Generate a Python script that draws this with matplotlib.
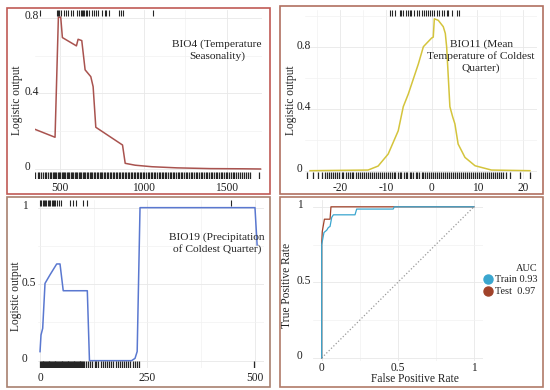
import matplotlib
matplotlib.use("Agg")
import matplotlib.pyplot as plt
from matplotlib.lines import Line2D
from matplotlib.patches import Rectangle
import matplotlib.transforms as mtransforms

plt.rcParams['font.family'] = ['Liberation Serif', 'DejaVu Serif']

# ---------------- data ----------------
bio4_x = [350, 470, 490, 504, 514, 598, 608, 630, 650, 684, 698, 714, 874, 890, 950, 1050, 1200, 1400, 1600, 1700]
bio4_y = [0.210, 0.168, 0.804, 0.804, 0.696, 0.652, 0.687, 0.680, 0.525, 0.489, 0.436, 0.221, 0.127, 0.030, 0.020, 0.012, 0.006, 0.002, 0.001, 0.0]
bio4_pres = [380, 484, 490, 496, 504, 524, 534, 550, 564, 578, 604, 614, 624, 634, 640, 646, 654, 664, 674, 690,
             704, 718, 726, 754, 770, 778, 794, 854, 864, 874, 1058]
bio4_bg = [352, 365, 374, 388, 396, 410, 418, 425, 437, 446, 455, 462, 470, 478, 486, 493, 501, 509, 516, 524,
           531, 540, 548, 556, 563, 571, 580, 588, 596, 604, 612, 619, 627, 636, 645, 652, 660, 668, 677, 685,
           694, 702, 711, 720, 728, 737, 745, 754, 763, 771, 780, 790, 798, 807, 816, 825, 834, 842, 851, 860,
           869, 878, 887, 896, 905, 914, 923, 932, 941, 950, 960, 969, 978, 987, 996, 1005, 1015, 1024, 1033,
           1043, 1052, 1061, 1071, 1080, 1090, 1099, 1108, 1118, 1128, 1137, 1147, 1156, 1166, 1175, 1185,
           1195, 1204, 1214, 1224, 1233, 1243, 1253, 1262, 1272, 1282, 1292, 1302, 1311, 1321, 1331, 1341,
           1351, 1361, 1371, 1381, 1391, 1401, 1411, 1421, 1431, 1441, 1451, 1461, 1472, 1482, 1492, 1502,
           1513, 1523, 1534, 1544, 1555, 1566, 1577, 1589, 1601, 1614, 1628, 1640, 1690]

bio11_x = [-26.6, -13.9, -11.7, -9.5, -7.3, -6.2, -5.1, -2.9, -1.8, -1.1, 0.0, 0.36, 0.6, 1.46, 2.55, 3.0, 3.3,
           4.0, 4.6, 5.1, 5.8, 7.3, 9.5, 13.1, 21.5]
bio11_y = [0.0, 0.004, 0.030, 0.108, 0.259, 0.415, 0.497, 0.692, 0.804, 0.826, 0.860, 0.866, 0.985, 0.975, 0.934,
           0.890, 0.800, 0.415, 0.350, 0.303, 0.173, 0.086, 0.032, 0.004, 0.0]
bio11_pres = [-9.1, -8.6, -7.9, -6.9, -6.6, -6.2, -5.7, -5.1, -4.7, -4.4, -3.8, -3.3, -2.8, -2.2, -1.7, -1.3,
              -0.7, -0.4, 0.0, 0.6, 1.1, 1.6, 2.2, 2.8, 3.3, 3.6, 4.4, 5.5, 6.1]
bio11_bg = [-27.3, -26.0, -24.9, -24.0, -23.3, -22.9, -22.4, -22.0, -21.5, -21.1, -20.6, -20.2, -19.7, -19.3,
            -18.8, -18.4, -17.9, -17.5, -17.1, -16.6, -16.2, -15.7, -15.3, -14.8, -14.4, -14.0, -13.5, -13.1,
            -12.6, -12.2, -11.8, -11.3, -10.9, -10.5, -10.0, -9.6, -9.2, -8.7, -8.3, -7.9, -7.4, -7.0, -6.6,
            -6.1, -5.7, -5.3, -4.8, -4.4, -4.0, -3.5, -3.1, -2.7, -2.2, -1.8, -1.4, -0.9, -0.5, -0.1, 0.4, 0.8,
            1.2, 1.7, 2.1, 2.5, 3.0, 3.4, 3.8, 4.3, 4.7, 5.1, 5.6, 6.0, 6.4, 6.9, 7.3, 7.7, 8.2, 8.6, 9.0, 9.5,
            9.9, 10.3, 10.8, 11.2, 11.6, 12.1, 12.5, 12.9, 13.4, 13.8, 14.2, 14.7, 15.1, 15.6, 16.3, 17.2,
            19.4, 21.5]

bio19_x = [0, 2.3, 6.2, 11.6, 23, 38.8, 46.5, 54, 110, 115, 213, 221, 226, 232.6, 500, 505]
bio19_y = [0.059, 0.168, 0.211, 0.505, 0.560, 0.632, 0.632, 0.457, 0.457, 0.0, 0.0, 0.015, 0.060, 1.0, 1.0, 0.756]
bio19_pres = [0, 3, 6, 9, 12, 15, 18, 21, 24, 27, 30, 33, 36, 40, 44, 48, 70, 76, 84, 101, 110, 444]
bio19_bg = [0, 2, 4, 6, 8, 10, 12, 14, 16, 18, 20, 22, 24, 26, 28, 30, 32, 34, 36, 38, 40, 42, 44, 46, 48, 50,
            52, 54, 56, 58, 60, 62, 64, 66, 68, 70, 72, 74, 76, 78, 80, 82, 84, 86, 88, 90, 92, 94, 96, 98, 100,
            103, 108, 112, 117, 121, 127, 131, 136, 141, 147, 151, 156, 160, 165, 170, 176, 181, 186, 190, 195,
            200, 205, 210, 216, 221, 226, 230, 498]

fpr_train = [0, 0, 0.015, 0.033, 0.044, 0.055, 0.066, 0.077, 0.219, 0.23, 0.47, 0.477, 1.0]
tpr_train = [0, 0.75, 0.83, 0.845, 0.863, 0.87, 0.93, 0.947, 0.947, 0.985, 0.985, 1.0, 1.0]
fpr_test = [0, 0, 0.004, 0.018, 0.055, 0.061, 1.0]
tpr_test = [0, 0.76, 0.837, 0.918, 0.918, 1.0, 1.0]
diag = [0, 1]
auc_labels = ['Train 0.93', 'Test  0.97']

# ---------------- styling ----------------
W, H = 550, 390
fig = plt.figure(figsize=(5.5, 3.9), dpi=100)
FS = 8.3
TXT = '#222222'
GRID_MAJ = '#e8e8e8'
GRID_MIN = '#f2f2f2'
RUG = '#262626'


def box(l, t, r, b):
    return [l / W, 1 - b / H, (r - l) / W, (b - t) / H]


def fxy(x, y):
    return x / W, 1 - y / H


def style(ax, xt, xtl, xminor, yt, ytl, yminor, ypad_px, xpad):
    for s in ax.spines.values():
        s.set_visible(False)
    ax.set_xticks(xt)
    ax.set_xticklabels(xtl)
    ax.set_xticks(xminor, minor=True)
    ax.set_yticks(yt)
    ax.set_yticklabels(ytl)
    ax.set_yticks(yminor, minor=True)
    ax.tick_params(which='both', length=0, labelsize=FS, labelcolor=TXT)
    ax.tick_params(axis='y', pad=ypad_px * 0.72)
    ax.tick_params(axis='x', pad=xpad)
    ax.grid(which='major', color=GRID_MAJ, lw=0.6)
    ax.grid(which='minor', color=GRID_MIN, lw=0.5)
    ax.set_axisbelow(True)
    off = mtransforms.ScaledTranslation(0, 3 / 100, fig.dpi_scale_trans)
    for lab in ax.get_yticklabels():
        lab.set_horizontalalignment('left')
        lab.set_transform(lab.get_transform() + off)


def rugs(ax, pres, bg):
    tr = ax.get_xaxis_transform()
    ax.vlines(bg, 0, 0.042, transform=tr, color=RUG, lw=0.9)
    ax.vlines(pres, 0.965, 1.0, transform=tr, color=RUG, lw=0.8)


def ylab(ax, text, xr, yc):
    ax.set_ylabel(text, fontsize=FS, color=TXT)
    ax.yaxis.set_label_coords(xr / W, 1 - yc / H, transform=fig.transFigure)


# ---- panel borders ----
borders = [((7, 8, 270, 194), '#c05a55'), ((280, 6, 543, 194), '#b07060'),
           ((7, 197, 270, 387), '#a88070'), ((280, 197, 543, 387), '#b07a68')]
for (l, t, r, b), c in borders:
    x0, y1 = fxy(l, t)
    x1, y0 = fxy(r, b)
    fig.add_artist(Rectangle((x0, y0), x1 - x0, y1 - y0, transform=fig.transFigure,
                             fill=False, edgecolor=c, lw=1.2))

# ---- BIO4 ----
ax1 = fig.add_axes(box(35, 10, 262, 179))
ax1.plot(bio4_x, bio4_y, color='#a9534f', lw=1.1)
rugs(ax1, bio4_pres, bio4_bg)
ax1.set_xlim(350, 1709)
ax1.set_ylim(-0.053, 0.842)
style(ax1, [500, 1000, 1500], ['500', '1000', '1500'], [750, 1250],
      [0, 0.4, 0.8], ['0', '0.4', '0.8'], [0.2, 0.6], 10, 2)
ylab(ax1, 'Logistic output', 23, 100)
fig.text(*fxy(217, 50), 'BIO4 (Temperature\nSeasonality)', ha='center', va='center',
         multialignment='center', fontsize=8.2, color=TXT, linespacing=1.3)

# ---- BIO11 ----
ax2 = fig.add_axes(box(305, 10, 537, 179))
ax2.plot(bio11_x, bio11_y, color='#d4c43c', lw=1.1)
rugs(ax2, bio11_pres, bio11_bg)
ax2.set_xlim(-27.7, 23.06)
ax2.set_ylim(-0.054, 1.042)
style(ax2, [-20, -10, 0, 10, 20], ['-20', '-10', '0', '10', '20'], [-25, -15, -5, 5, 15],
      [0, 0.4, 0.8], ['0', '0.4', '0.8'], [0.2, 0.6, 1.0], 8, 2)
ylab(ax2, 'Logistic output', 297, 100)
fig.text(*fxy(481, 56), 'BIO11 (Mean\nTemperature of Coldest\nQuarter)', ha='center', va='center',
         multialignment='center', fontsize=8.2, color=TXT, linespacing=1.35)

# ---- BIO19 ----
ax3 = fig.add_axes(box(38, 200, 264, 368))
ax3.plot(bio19_x, bio19_y, color='#5a78d0', lw=1.1)
rugs(ax3, bio19_pres, bio19_bg)
ax3.set_xlim(-4.7, 521)
ax3.set_ylim(-0.048, 1.05)
style(ax3, [0, 250, 500], ['0', '250', '500'], [125, 375],
      [0, 0.5, 1], ['0', '0.5', '1'], [0.25, 0.75], 16, 3)
ylab(ax3, 'Logistic output', 22, 296)
fig.text(*fxy(217, 243), 'BIO19 (Precipitation\nof Coldest Quarter)', ha='center', va='center',
         multialignment='center', fontsize=8.2, color=TXT, linespacing=1.3)

# ---- ROC ----
ax4 = fig.add_axes(box(313, 200, 483, 361))
ax4.plot(diag, diag, color='#9a9a9a', lw=0.9, ls=':')
c_test = '#a0422a'
c_train = '#3aa6cf'
ax4.plot(fpr_test, tpr_test, color=c_test, lw=0.9)
ax4.plot(fpr_train, tpr_train, color=c_train, lw=0.9)
ax4.set_xlim(-0.057, 1.06)
ax4.set_ylim(-0.02, 1.045)
style(ax4, [0, 0.5, 1], ['0', '0.5', '1'], [0.25, 0.75],
      [0, 0.5, 1], ['0', '0.5', '1'], [0.25, 0.75], 16, 1)
ylab(ax4, 'True Positive Rate', 293, 285)
ax4.set_xlabel('False Positive Rate', fontsize=FS, color=TXT)
ax4.xaxis.set_label_coords(415 / W, 1 - 373 / H, transform=fig.transFigure)
handles = [Line2D([], [], ls='none', marker='o', ms=6.5, color=c_train),
           Line2D([], [], ls='none', marker='o', ms=6.5, color=c_test)]
leg = fig.legend(handles, auc_labels, title='AUC', loc='center left',
                 bbox_to_anchor=fxy(478, 280), frameon=False, fontsize=7.4,
                 title_fontsize=7.4, handlelength=0.6, handletextpad=0.4,
                 labelspacing=0.25, borderpad=0.2, alignment='right')
for t in leg.get_texts():
    t.set_color(TXT)
leg.get_title().set_color(TXT)

fig.savefig('out.png', dpi=100)
